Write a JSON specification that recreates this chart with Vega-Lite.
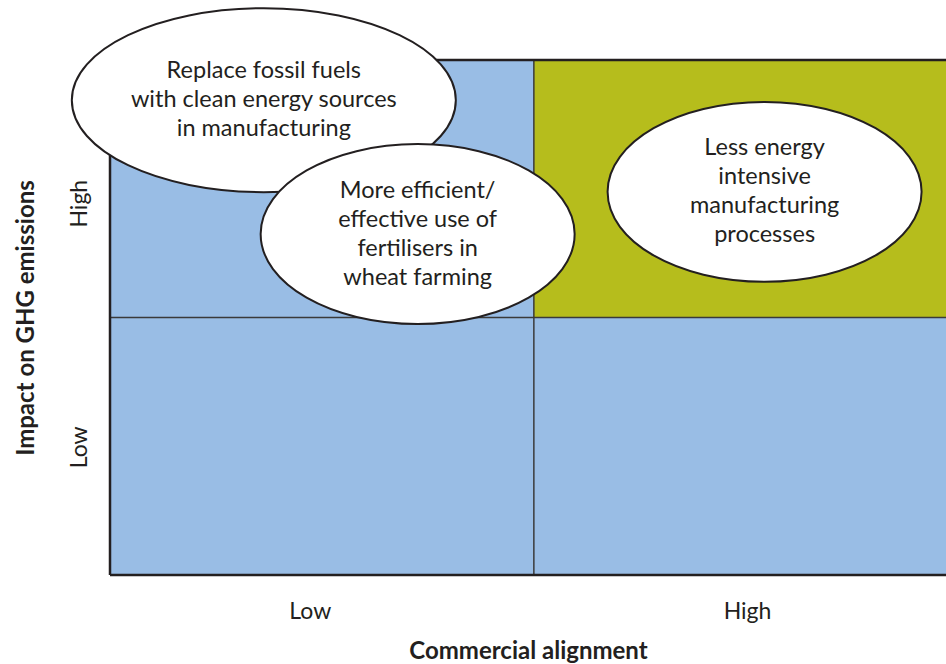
{
  "$schema": "https://vega.github.io/schema/vega-lite/v6.json",
  "width": 836,
  "height": 515,
  "autosize": "none",
  "padding": {"left": 110, "top": 60, "right": 0, "bottom": 89},
  "background": "white",
  "config": {
    "view": {"stroke": null},
    "font": "Lato",
    "text": {"font": "Lato"}
  },
  "datasets": {
    "quadrants": [
      {"x0": 0, "x1": 50.7, "y0": 50, "y1": 100, "zone": "other"},
      {"x0": 50.7, "x1": 100, "y0": 50, "y1": 100, "zone": "priority"},
      {"x0": 0, "x1": 50.7, "y0": 0, "y1": 50, "zone": "other"},
      {"x0": 50.7, "x1": 100, "y0": 0, "y1": 50, "zone": "other"}
    ],
    "bubbles": [
      {"label": "Replace fossil fuels\nwith clean energy sources\nin manufacturing", "cx": 18.4, "cy": 92.2, "kind": "wide"},
      {"label": "More efficient/\neffective use of\nfertilisers in\nwheat farming", "cx": 36.8, "cy": 66.2, "kind": "regular"},
      {"label": "Less energy\nintensive\nmanufacturing\nprocesses", "cx": 78.3, "cy": 74.4, "kind": "regular"}
    ],
    "dividers": [{"xd": 50.7, "yd": 50}],
    "frame": [{"left": 0, "bottom": 0, "top": 100}]
  },
  "layer": [
    {
      "data": {"name": "quadrants"},
      "mark": {"type": "rect"},
      "encoding": {
        "x": {
          "field": "x0", "type": "quantitative",
          "scale": {"domain": [0, 100], "nice": false, "zero": false},
          "axis": {
            "values": [23.9, 76.2],
            "labelExpr": "datum.value < 50 ? 'Low' : 'High'",
            "domain": false, "ticks": false, "grid": false,
            "labelFontSize": 23, "labelColor": "#231f20", "labelFont": "Lato",
            "labelPadding": 25,
            "title": "Commercial alignment",
            "titleFontSize": 24, "titleFont": "Lato", "titleFontWeight": "bold",
            "titleColor": "#231f20", "titlePadding": 16
          }
        },
        "x2": {"field": "x1"},
        "y": {
          "field": "y0", "type": "quantitative",
          "scale": {"domain": [0, 100], "nice": false, "zero": false},
          "axis": {
            "values": [72.2, 24.9],
            "labelExpr": "datum.value < 50 ? 'Low' : 'High'",
            "labelAngle": -90,
            "domain": false, "ticks": false, "grid": false,
            "labelFontSize": 23, "labelColor": "#231f20", "labelFont": "Lato",
            "labelPadding": 19,
            "title": "Impact on GHG emissions",
            "titleFontSize": 24, "titleFont": "Lato", "titleFontWeight": "bold",
            "titleColor": "#231f20", "titlePadding": 30
          }
        },
        "y2": {"field": "y1"},
        "color": {
          "field": "zone", "type": "nominal",
          "scale": {"domain": ["other", "priority"], "range": ["#99bde5", "#b6bd1c"]},
          "legend": null
        }
      }
    },
    {
      "data": {"name": "dividers"},
      "mark": {"type": "rule", "color": "#3a3a3a", "strokeWidth": 1.5},
      "encoding": {"x": {"field": "xd", "type": "quantitative"}}
    },
    {
      "data": {"name": "dividers"},
      "mark": {"type": "rule", "color": "#3a3a3a", "strokeWidth": 1.5},
      "encoding": {"y": {"field": "yd", "type": "quantitative"}}
    },
    {
      "data": {"name": "frame"},
      "mark": {"type": "rule", "color": "#231f20", "strokeWidth": 2.5},
      "encoding": {"x": {"field": "left", "type": "quantitative"}}
    },
    {
      "data": {"name": "frame"},
      "mark": {"type": "rule", "color": "#231f20", "strokeWidth": 2.5},
      "encoding": {"y": {"field": "bottom", "type": "quantitative"}}
    },
    {
      "data": {"name": "frame"},
      "mark": {"type": "rule", "color": "#231f20", "strokeWidth": 2.5},
      "encoding": {"y": {"field": "top", "type": "quantitative"}}
    },
    {
      "data": {"name": "bubbles"},
      "transform": [{"filter": "datum.kind === 'wide'"}],
      "mark": {
        "type": "point", "filled": true, "fill": "white", "stroke": "#231f20",
        "strokeWidth": 2, "opacity": 1, "fillOpacity": 1, "strokeOpacity": 1,
        "size": 147456,
        "shape": "M -1 0 C -1 -0.2646 -0.5523 -0.479 0 -0.479 C 0.5523 -0.479 1 -0.2646 1 0 C 1 0.2646 0.5523 0.479 0 0.479 C -0.5523 0.479 -1 0.2646 -1 0 Z"
      },
      "encoding": {
        "x": {"field": "cx", "type": "quantitative"},
        "y": {"field": "cy", "type": "quantitative"}
      }
    },
    {
      "data": {"name": "bubbles"},
      "transform": [{"filter": "datum.kind === 'regular'"}],
      "mark": {
        "type": "point", "filled": true, "fill": "white", "stroke": "#231f20",
        "strokeWidth": 2, "opacity": 1, "fillOpacity": 1, "strokeOpacity": 1,
        "size": 98596,
        "shape": "M -1 0 C -1 -0.3165 -0.5523 -0.573 0 -0.573 C 0.5523 -0.573 1 -0.3165 1 0 C 1 0.3165 0.5523 0.573 0 0.573 C -0.5523 0.573 -1 0.3165 -1 0 Z"
      },
      "encoding": {
        "x": {"field": "cx", "type": "quantitative"},
        "y": {"field": "cy", "type": "quantitative"}
      }
    },
    {
      "data": {"name": "bubbles"},
      "transform": [{"filter": "datum.kind === 'wide'"}],
      "mark": {
        "type": "text", "align": "center", "baseline": "middle",
        "lineBreak": "\n", "lineHeight": 29, "fontSize": 23.5, "dy": -29,
        "font": "Lato", "color": "#231f20"
      },
      "encoding": {
        "x": {"field": "cx", "type": "quantitative"},
        "y": {"field": "cy", "type": "quantitative"},
        "text": {"field": "label", "type": "nominal"}
      }
    },
    {
      "data": {"name": "bubbles"},
      "transform": [{"filter": "datum.kind === 'regular'"}],
      "mark": {
        "type": "text", "align": "center", "baseline": "middle",
        "lineBreak": "\n", "lineHeight": 29, "fontSize": 23.5, "dy": -43.5,
        "font": "Lato", "color": "#231f20"
      },
      "encoding": {
        "x": {"field": "cx", "type": "quantitative"},
        "y": {"field": "cy", "type": "quantitative"},
        "text": {"field": "label", "type": "nominal"}
      }
    }
  ]
}
